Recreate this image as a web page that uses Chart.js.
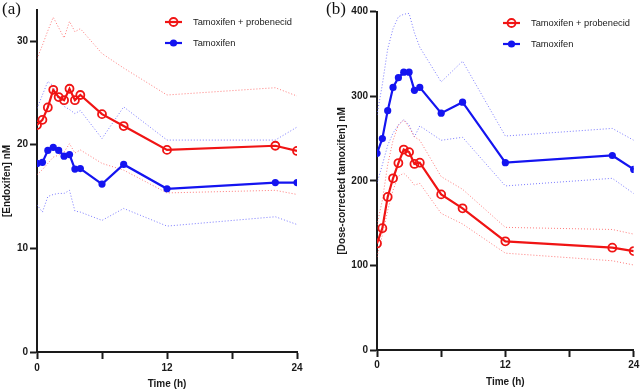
<!DOCTYPE html>
<html>
<head>
<meta charset="utf-8">
<script src="https://cdn.jsdelivr.net/npm/chart.js@4.4.1/dist/chart.umd.min.js"></script>
<style>
html, body { margin: 0; padding: 0; background: #fff; }
#wrap { position: relative; width: 642px; height: 392px; overflow: hidden; }
.panel { position: absolute; top: 0; width: 321px; height: 392px; }
.tag { position: absolute; top: -1px; font-family: "Liberation Serif", "DejaVu Serif", serif; font-size: 17px; color: #111; }
</style>
</head>
<body>
<div id="wrap">
  <div class="panel" style="left:0"><canvas id="chartA"></canvas></div>
  <div class="panel" style="left:321px"><canvas id="chartB"></canvas></div>
  <div class="tag" style="left:2px">(a)</div>
  <div class="tag" style="left:326px">(b)</div>
</div>
<script>
// sampling times (h), shared by both panels
var times = [0, 0.5, 1, 1.5, 2, 2.5, 3, 3.5, 4, 6, 8, 12, 22, 24];
var xTickLabels = ['0', '12', '24'];

// (a) endoxifen, nM
var endoxProbenecid      = [21.9, 22.4, 23.6, 25.3, 24.6, 24.3, 25.4, 24.3, 24.8, 22.95, 21.8, 19.5, 19.9, 19.4];
var endoxProbenecidHigh  = [28.3, 29.6, 31.0, 32.3, 31.3, 30.3, 31.9, 30.9, 31.2, 28.8, 27.4, 24.8, 25.5, 24.7];
var endoxProbenecidLow   = [17.1, 17.6, 18.2, 18.8, 19.0, 19.3, 20.1, 19.2, 19.5, 18.2, 17.55, 15.35, 15.6, 15.2];
var endoxTamoxifen       = [18.2, 18.3, 19.45, 19.75, 19.45, 18.9, 19.05, 17.65, 17.7, 16.2, 18.1, 15.75, 16.35, 16.35];
var endoxTamoxifenHigh   = [23.5, 24.8, 26.1, 25.7, 24.3, 23.7, 23.4, 23.0, 23.3, 20.6, 23.65, 20.45, 20.45, 21.7];
var endoxTamoxifenLow    = [14.2, 13.5, 15.0, 15.2, 15.3, 15.3, 15.6, 13.6, 13.5, 12.7, 13.85, 12.15, 13.05, 12.3];

// (b) dose-corrected tamoxifen, nM
var tamProbenecid        = [126, 144, 181, 203, 221, 237, 234, 220, 221.5, 184, 167.5, 128.5, 121, 117];
var tamProbenecidHigh    = [148, 177, 219, 248, 266, 272, 263.5, 252, 248, 205, 190, 145, 142.5, 137];
var tamProbenecidLow     = [110, 136, 165, 189, 205.5, 209, 203, 195, 197, 161.5, 149, 114.5, 105.5, 100.5];
var tamTamoxifen         = [232.5, 250, 283, 310.5, 322, 328.5, 328.5, 307, 310.5, 280, 293, 221.5, 230, 213.5];
var tamTamoxifenHigh     = [278, 314, 356, 380, 394, 397, 398, 375, 358, 317, 341.5, 253, 262, 248];
var tamTamoxifenLow      = [197, 219, 242, 256.5, 266, 272.5, 266, 252, 265, 248, 251.5, 194, 203, 185];

var RED = '#f01414';
var BLUE = '#1414f0';
var RED_BAND = 'rgba(255,80,80,0.75)';
var BLUE_BAND = 'rgba(90,90,255,0.8)';
var INK = '#1a1a1a';

Chart.defaults.font.family = '"Liberation Sans", Arial, sans-serif';
Chart.defaults.color = INK;

function pts(vals) {
  return vals.map(function (v, i) { return { x: times[i], y: v }; });
}

function mainSet(label, vals, color, hollow) {
  return {
    label: label,
    data: pts(vals),
    borderColor: color,
    borderWidth: 2.2,
    pointRadius: hollow ? 4 : 3.6,
    pointBorderWidth: hollow ? 1.8 : 0,
    pointBackgroundColor: hollow ? 'rgba(255,255,255,0)' : color,
    pointBorderColor: color,
    pointStyle: 'circle',
    showLine: true
  };
}

function bandSet(vals, color) {
  return {
    label: '',
    data: pts(vals),
    borderColor: color,
    borderWidth: 1,
    borderDash: [1, 2],
    pointRadius: 0,
    showLine: true
  };
}

// legend drawn inside the plot, main series only
var insideLegend = {
  id: 'insideLegend',
  afterDatasetsDraw: function (chart, args, o) {
    var ctx = chart.ctx;
    ctx.save();
    for (var i = 0; i < 2; i++) {
      var ds = chart.data.datasets[i];
      var y = o.y + i * o.gap;
      ctx.strokeStyle = ds.borderColor;
      ctx.lineWidth = ds.borderWidth;
      ctx.setLineDash([]);
      ctx.beginPath();
      ctx.moveTo(o.x, y);
      ctx.lineTo(o.x + o.len, y);
      ctx.stroke();
      ctx.fillStyle = ds.pointBackgroundColor;
      ctx.lineWidth = ds.pointBorderWidth;
      Chart.helpers.drawPoint(ctx, { pointStyle: 'circle', radius: ds.pointRadius, borderWidth: ds.pointBorderWidth, rotation: 0 }, o.x + o.len / 2, y);
      ctx.fillStyle = INK;
      ctx.font = '9.3px "Liberation Sans", Arial, sans-serif';
      ctx.textBaseline = 'middle';
      ctx.textAlign = 'left';
      ctx.fillText(ds.label, o.x + o.len + o.textGap, y);
    }
    ctx.restore();
  }
};

function makeChart(id, cfg) {
  return new Chart(document.getElementById(id), {
    type: 'line',
    data: {
      datasets: [
        mainSet('Tamoxifen + probenecid', cfg.red, RED, true),
        mainSet('Tamoxifen', cfg.blue, BLUE, false),
        bandSet(cfg.redHigh, RED_BAND),
        bandSet(cfg.redLow, RED_BAND),
        bandSet(cfg.blueHigh, BLUE_BAND),
        bandSet(cfg.blueLow, BLUE_BAND)
      ]
    },
    options: {
      animation: false,
      responsive: true,
      maintainAspectRatio: false,
      layout: { padding: cfg.padding },
      plugins: {
        legend: { display: false },
        tooltip: { enabled: false },
        insideLegend: cfg.legend
      },
      scales: {
        x: {
          type: 'linear',
          min: 0,
          max: 24,
          afterFit: function (s) { s.height = cfg.xHeight; },
          grid: { drawOnChartArea: false, tickLength: 7, tickWidth: 2, tickColor: INK },
          border: { display: true, color: INK, width: 2 },
          ticks: {
            stepSize: 6,
            autoSkip: false,
            maxRotation: 0,
            padding: cfg.xTickPad,
            font: { size: 10, weight: 'bold' },
            callback: function (v) { return xTickLabels.indexOf(String(v)) >= 0 ? String(v) : ''; }
          },
          title: { display: true, text: 'Time (h)', font: { size: 10, weight: 'bold' }, padding: { top: 0, bottom: cfg.xTitlePad } }
        },
        y: {
          type: 'linear',
          min: 0,
          max: cfg.yMax,
          afterFit: function (s) { s.width = cfg.yWidth; },
          grid: { drawOnChartArea: false, tickLength: 7, tickWidth: 2, tickColor: INK },
          border: { display: true, color: INK, width: 2 },
          ticks: { stepSize: cfg.yStep, includeBounds: false, padding: 2, font: { size: 10, weight: 'bold' } },
          title: { display: true, text: cfg.yTitle, font: { size: 10, weight: 'bold' }, padding: { top: cfg.yTitlePad, bottom: 0 } }
        }
      }
    },
    plugins: [insideLegend]
  });
}

makeChart('chartA', {
  red: endoxProbenecid, redHigh: endoxProbenecidHigh, redLow: endoxProbenecidLow,
  blue: endoxTamoxifen, blueHigh: endoxTamoxifenHigh, blueLow: endoxTamoxifenLow,
  yMax: 33, yStep: 10, yTitle: '[Endoxifen] nM',
  padding: { top: 10, right: 24, bottom: 0, left: 0 },
  yWidth: 37, xHeight: 40, xTickPad: 3, xTitlePad: 2, yTitlePad: 1,
  legend: { x: 165, y: 22, gap: 21, len: 17, textGap: 11 }
});

makeChart('chartB', {
  red: tamProbenecid, redHigh: tamProbenecidHigh, redLow: tamProbenecidLow,
  blue: tamTamoxifen, blueHigh: tamTamoxifenHigh, blueLow: tamTamoxifenLow,
  yMax: 400, yStep: 100, yTitle: '[Dose-corrected tamoxifen] nM',
  padding: { top: 11.7, right: 8.3, bottom: 0, left: 0 },
  yWidth: 56, xHeight: 42, xTickPad: 2, xTitlePad: 4, yTitlePad: 15,
  legend: { x: 182, y: 23, gap: 21, len: 17, textGap: 11 }
});
</script>
</body>
</html>
